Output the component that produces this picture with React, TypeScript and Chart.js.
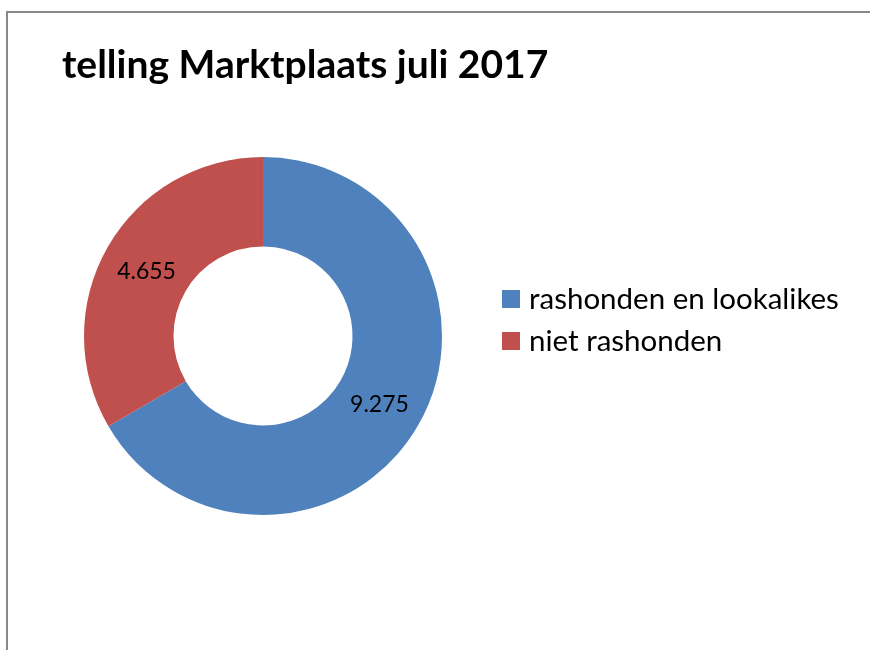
import React, { useEffect, useRef } from "react";
import { Chart, registerables } from "chart.js";

Chart.register(...registerables);

const title = "telling Marktplaats juli 2017";
const categories = ["rashonden en lookalikes", "niet rashonden"];
const values = [9275, 4655];
const valueLabels = ["9.275", "4.655"];
const colors = ["#4F81BD", "#C0504D"];

const FONT = "Lato, 'Open Sans', sans-serif";

const decorPlugin = {
  id: "decor",
  beforeDraw(chart: any) {
    const ctx = chart.ctx;
    ctx.save();
    ctx.fillStyle = "#ffffff";
    ctx.fillRect(0, 0, chart.width, chart.height);
    ctx.strokeStyle = "#888888";
    ctx.lineWidth = 2;
    ctx.strokeRect(7, 12, chart.width + 20, chart.height + 20);
    ctx.restore();
  },
  afterDraw(chart: any) {
    const ctx = chart.ctx;
    ctx.save();
    // title
    ctx.fillStyle = "#000000";
    ctx.font = `bold 39px ${FONT}`;
    ctx.textAlign = "left";
    ctx.textBaseline = "alphabetic";
    ctx.fillText(title, 62, 78);
    // value labels
    const meta = chart.getDatasetMeta(0);
    ctx.font = `23px ${FONT}`;
    ctx.textAlign = "center";
    ctx.textBaseline = "middle";
    meta.data.forEach((arc: any, i: number) => {
      const p = arc.tooltipPosition();
      ctx.fillText(valueLabels[i], p.x, p.y + 2);
    });
    // legend
    const labels = chart.data.labels as string[];
    ctx.textAlign = "left";
    ctx.textBaseline = "middle";
    ctx.font = `29.5px ${FONT}`;
    labels.forEach((lab, i) => {
      const y = 299 + i * 42;
      ctx.fillStyle = colors[i];
      ctx.fillRect(502, y - 9, 18, 18);
      ctx.fillStyle = "#000000";
      ctx.fillText(lab, 529, y);
    });
    ctx.restore();
  },
};

export default function App() {
  const ref = useRef<HTMLCanvasElement | null>(null);
  useEffect(() => {
    document.body.style.margin = "0";
    const chart = new Chart(ref.current as HTMLCanvasElement, {
      type: "doughnut",
      data: {
        labels: categories,
        datasets: [
          {
            data: values,
            backgroundColor: colors,
            borderWidth: 0,
          },
        ],
      },
      options: {
        animation: false,
        responsive: false,
        cutout: "50%",
        layout: { padding: { left: 84, top: 157, right: 428, bottom: 135 } },
        plugins: {
          legend: { display: false },
          tooltip: { enabled: false },
          title: { display: false },
        },
      },
      plugins: [decorPlugin],
    });
    return () => chart.destroy();
  }, []);
  return (
    <div style={{ position: "absolute", left: 0, top: 0, width: 870, height: 650 }}>
      <canvas ref={ref} width={870} height={650} style={{ width: 870, height: 650 }} />
    </div>
  );
}
